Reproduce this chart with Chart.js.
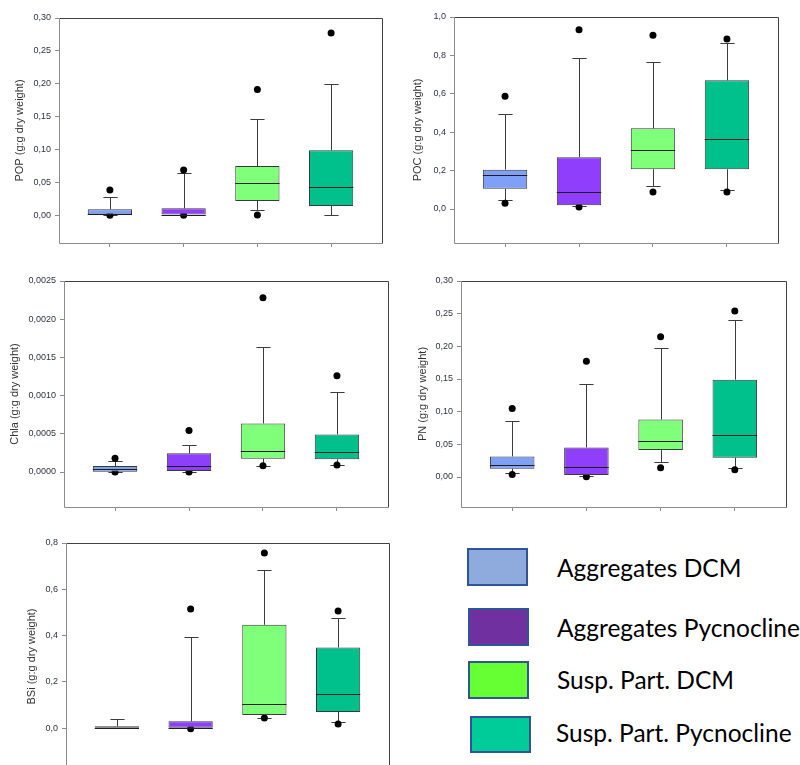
<!DOCTYPE html>
<html>
<head>
<meta charset="utf-8">
<script src="https://cdn.jsdelivr.net/npm/chart.js@4.4.1/dist/chart.umd.min.js"></script>
<style>
  html, body { margin: 0; padding: 0; background: #fff; }
  body { width: 800px; height: 765px; position: relative; overflow: hidden; }
  canvas { position: absolute; }
  .key { position: absolute; box-sizing: border-box; border: 2px solid #2f5597; }
  .keytxt { position: absolute; font-family: Lato, 'Open Sans', sans-serif; font-size: 24.5px; color: #000; white-space: nowrap; line-height: 1; }
</style>
</head>
<body>
<canvas id="pop" width="400" height="260" style="left:0;top:0"></canvas>
<canvas id="poc" width="400" height="260" style="left:400px;top:0"></canvas>
<canvas id="chla" width="400" height="260" style="left:0;top:260px"></canvas>
<canvas id="pn" width="400" height="260" style="left:400px;top:260px"></canvas>
<canvas id="bsi" width="400" height="275" style="left:0;top:520px"></canvas>

<div class="key" style="left:467px;top:548px;width:61px;height:38px;background:#8faadc"></div>
<div class="keytxt" style="left:557px;top:556px">Aggregates DCM</div>
<div class="key" style="left:468px;top:608px;width:61px;height:38px;background:#7030a0"></div>
<div class="keytxt" style="left:557px;top:616px">Aggregates Pycnocline</div>
<div class="key" style="left:468px;top:661px;width:61px;height:38px;background:#66ff33"></div>
<div class="keytxt" style="left:557px;top:668px">Susp. Part. DCM</div>
<div class="key" style="left:470px;top:716px;width:61px;height:37px;background:#00cc99"></div>
<div class="keytxt" style="left:556px;top:721px">Susp. Part. Pycnocline</div>

<script>
(function () {
  'use strict';

  // ── Groups ──
  const groups = ['Aggregates DCM', 'Aggregates Pycnocline', 'Susp. Part. DCM', 'Susp. Part. Pycnocline'];
  const groupPos = [0, 1, 2, 3];
  const boxColors = ['#7ea0f8', '#8f3ffb', '#80ff7b', '#00c08c'];

  // ── POP ──
  const popLow  = [0, 0, 0.0076, 0];
  const popQ1   = [0, 0, 0.0213, 0.0137];
  const popMed  = [0.001, 0.0005, 0.0487, 0.042];
  const popQ3   = [0.0087, 0.0102, 0.0746, 0.0985];
  const popHigh = [0.027, 0.064, 0.146, 0.200];
  const popOut  = [[0.038, -0.0005], [0.0685, -0.0005], [0.191, 0.0], [0.277]];
  const popTicks = [0, 0.05, 0.10, 0.15, 0.20, 0.25, 0.30];
  const popTickLabels = ['0,00', '0,05', '0,10', '0,15', '0,20', '0,25', '0,30'];

  // ── POC ──
  const pocLow  = [0.047, 0.014, 0.121, 0.097];
  const pocQ1   = [0.105, 0.02, 0.207, 0.207];
  const pocMed  = [0.175, 0.09, 0.306, 0.363];
  const pocQ3   = [0.205, 0.27, 0.42, 0.67];
  const pocHigh = [0.495, 0.789, 0.766, 0.867];
  const pocOut  = [[0.587, 0.03], [0.933, 0.01], [0.905, 0.088], [0.886, 0.088]];
  const pocTicks = [0, 0.2, 0.4, 0.6, 0.8, 1.0];
  const pocTickLabels = ['0,0', '0,2', '0,4', '0,6', '0,8', '1,0'];

  // ── Chla ──
  const chlaLow  = [0, 0.000005, 0.000083, 0.000096];
  const chlaQ1   = [0.000005, 0.000013, 0.000174, 0.000166];
  const chlaMed  = [0.000044, 0.000078, 0.000279, 0.000257];
  const chlaQ3   = [0.000078, 0.000244, 0.000636, 0.000492];
  const chlaHigh = [0.000144, 0.000353, 0.00163, 0.00105];
  const chlaOut  = [[0.000179, 0.0], [0.000544, 0.0], [0.00228, 0.000083], [0.00126, 0.000091]];
  const chlaTicks = [0, 0.0005, 0.0010, 0.0015, 0.0020, 0.0025];
  const chlaTickLabels = ['0,0000', '0,0005', '0,0010', '0,0015', '0,0020', '0,0025'];

  // ── PN ──
  const pnLow  = [0.0056, 0.001, 0.0229, 0.0142];
  const pnQ1   = [0.0127, 0.003, 0.0412, 0.0295];
  const pnMed  = [0.0178, 0.0153, 0.0544, 0.064];
  const pnQ3   = [0.0315, 0.0453, 0.088, 0.149];
  const pnHigh = [0.0864, 0.142, 0.198, 0.24];
  const pnOut  = [[0.105, 0.004], [0.177, 0.0005], [0.2146, 0.0142], [0.254, 0.011]];
  const pnTicks = [0, 0.05, 0.10, 0.15, 0.20, 0.25, 0.30];
  const pnTickLabels = ['0,00', '0,05', '0,10', '0,15', '0,20', '0,25', '0,30'];

  // ── BSi ──
  const bsiLow  = [0, 0, 0.046, 0.027];
  const bsiQ1   = [0, 0, 0.0577, 0.0706];
  const bsiMed  = [0.003, 0.002, 0.104, 0.148];
  const bsiQ3   = [0.0086, 0.030, 0.447, 0.349];
  const bsiHigh = [0.039, 0.393, 0.683, 0.476];
  const bsiOut  = [[], [0.515, -0.002], [0.757, 0.0447], [0.506, 0.0187]];
  const bsiTicks = [0, 0.2, 0.4, 0.6, 0.8];
  const bsiTickLabels = ['0,0', '0,2', '0,4', '0,6', '0,8'];

  const FONT = "'Liberation Sans', Arial, sans-serif";
  const AXIS_GRAY = '#8c8c8c';
  const FRAME_DARK = '#404040';

  const crisp = v => Math.round(v) + 0.5;

  // whiskers + caps behind the boxes, medians and frame on top
  const boxPlugin = {
    id: 'boxParts',
    beforeDatasetsDraw(chart) {
      const p = chart.options.plugins.boxParts;
      const { ctx, scales: { x, y } } = chart;
      const bars = chart.getDatasetMeta(0).data;
      ctx.save();
      ctx.strokeStyle = '#3c3c3c';
      ctx.lineWidth = 1;
      p.q1.forEach((_, i) => {
        const cx = crisp(x.getPixelForValue(groupPos[i]));
        const half = bars[i].width * 0.16;
        [[p.q3[i], p.high[i]], [p.q1[i], p.low[i]]].forEach(([from, to]) => {
          const y0 = y.getPixelForValue(from);
          const y1 = crisp(y.getPixelForValue(to));
          ctx.beginPath();
          ctx.moveTo(cx, y0);
          ctx.lineTo(cx, y1);
          ctx.moveTo(cx - half, y1);
          ctx.lineTo(cx + half, y1);
          ctx.stroke();
        });
      });
      ctx.restore();
    },
    afterDatasetsDraw(chart) {
      const p = chart.options.plugins.boxParts;
      const { ctx, chartArea: a, scales: { y } } = chart;
      const bars = chart.getDatasetMeta(0).data;
      ctx.save();
      ctx.strokeStyle = '#1e1e1e';
      ctx.lineWidth = 1;
      p.med.forEach((m, i) => {
        const b = bars[i];
        const ym = crisp(y.getPixelForValue(m));
        ctx.beginPath();
        ctx.moveTo(b.x - b.width / 2, ym);
        ctx.lineTo(b.x + b.width / 2, ym);
        ctx.stroke();
      });
      // frame
      const l = crisp(a.left), r = crisp(a.right), t = crisp(a.top), bt = crisp(a.bottom);
      ctx.strokeStyle = FRAME_DARK;
      ctx.beginPath();
      ctx.moveTo(l, t); ctx.lineTo(r, t); ctx.lineTo(r, bt);
      ctx.stroke();
      ctx.strokeStyle = AXIS_GRAY;
      ctx.beginPath();
      ctx.moveTo(l, t); ctx.lineTo(l, bt); ctx.lineTo(r, bt);
      ctx.stroke();
      ctx.restore();
    }
  };

  function initPanel(id, cfg) {
    const canvas = document.getElementById(id);
    const W = canvas.width, H = canvas.height;
    const outliers = [];
    cfg.out.forEach((vals, i) => vals.forEach(v => outliers.push({ x: groupPos[i], y: v })));

    new Chart(canvas, {
      data: {
        datasets: [
          {
            type: 'bar',
            data: groupPos.map((g, i) => ({ x: g, y: [cfg.q1[i], cfg.q3[i]] })),
            backgroundColor: boxColors,
            borderColor: '#3a3a3a',
            borderWidth: 1,
            borderSkipped: false,
            barPercentage: 0.75,
            categoryPercentage: 0.8,
          },
          {
            type: 'scatter',
            data: outliers,
            backgroundColor: '#000',
            borderColor: '#000',
            pointRadius: 3.5,
            borderWidth: 0,
          }
        ]
      },
      options: {
        responsive: false,
        animation: false,
        events: [],
        layout: {
          padding: {
            left: 0,
            top: cfg.area.top,
            right: W - cfg.area.right,
            bottom: H - cfg.area.bottom - 8,
          }
        },
        scales: {
          x: {
            type: 'linear',
            offset: false,
            min: -0.69,
            max: 3.69,
            afterBuildTicks: s => { s.ticks = groupPos.map(v => ({ value: v })); },
            afterFit: s => { s.height = 8; },
            grid: { offset: false, drawOnChartArea: false, tickLength: 4, color: AXIS_GRAY },
            border: { display: false },
            ticks: { callback: () => '', padding: 0 }
          },
          y: {
            min: cfg.min,
            max: cfg.max,
            afterBuildTicks: s => { s.ticks = cfg.ticks.map(v => ({ value: v })); },
            afterFit: s => { s.width = cfg.area.left; },
            grid: { drawOnChartArea: false, tickLength: 4, color: AXIS_GRAY },
            border: { display: false },
            ticks: {
              padding: 4,
              color: '#2f3340',
              font: { size: 9, family: FONT },
              callback: (v, i) => cfg.tickLabels[i]
            },
            title: {
              display: true,
              text: cfg.title,
              color: '#333',
              font: { size: 11, family: FONT },
              padding: { top: cfg.titleX - 6.6, bottom: 0 }
            }
          }
        },
        plugins: {
          legend: { display: false },
          tooltip: { enabled: false },
          boxParts: { low: cfg.low, q1: cfg.q1, med: cfg.med, q3: cfg.q3, high: cfg.high }
        }
      },
      plugins: [boxPlugin]
    });
  }

  initPanel('pop', {
    low: popLow, q1: popQ1, med: popMed, q3: popQ3, high: popHigh, out: popOut,
    ticks: popTicks, tickLabels: popTickLabels, min: -0.0426, max: 0.30,
    title: 'POP (g:g dry weight)', titleX: 20,
    area: { left: 59, top: 18, right: 382, bottom: 243 }
  });
  initPanel('poc', {
    low: pocLow, q1: pocQ1, med: pocMed, q3: pocQ3, high: pocHigh, out: pocOut,
    ticks: pocTicks, tickLabels: pocTickLabels, min: -0.177, max: 1.0,
    title: 'POC (g:g dry weight)', titleX: 18,
    area: { left: 54, top: 17, right: 378, bottom: 243 }
  });
  initPanel('chla', {
    low: chlaLow, q1: chlaQ1, med: chlaMed, q3: chlaQ3, high: chlaHigh, out: chlaOut,
    ticks: chlaTicks, tickLabels: chlaTickLabels, min: -0.000458, max: 0.0025,
    title: 'Chla (g:g dry weight)', titleX: 15,
    area: { left: 64, top: 21, right: 388, bottom: 247 }
  });
  initPanel('pn', {
    low: pnLow, q1: pnQ1, med: pnMed, q3: pnQ3, high: pnHigh, out: pnOut,
    ticks: pnTicks, tickLabels: pnTickLabels, min: -0.0459, max: 0.30,
    title: 'PN (g:g dry weight)', titleX: 23,
    area: { left: 61, top: 21, right: 386, bottom: 247 }
  });
  initPanel('bsi', {
    low: bsiLow, q1: bsiQ1, med: bsiMed, q3: bsiQ3, high: bsiHigh, out: bsiOut,
    ticks: bsiTicks, tickLabels: bsiTickLabels, min: -0.18, max: 0.8,
    title: 'BSi (g:g dry weight)', titleX: 32,
    area: { left: 66, top: 23, right: 389, bottom: 250 }
  });
})();
</script>
</body>
</html>
